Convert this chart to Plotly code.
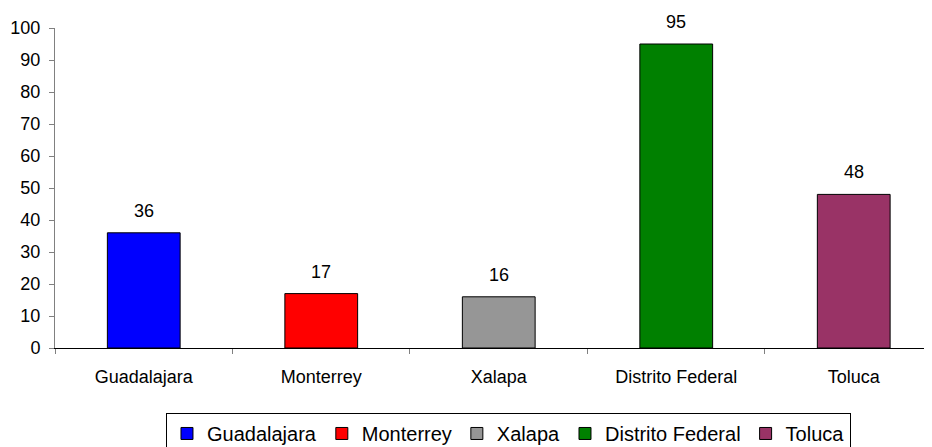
import plotly.graph_objects as go

categories = ["Guadalajara", "Monterrey", "Xalapa", "Distrito Federal", "Toluca"]
values = [36, 17, 16, 95, 48]
colors = ["#0000FF", "#FF0000", "#969696", "#008000", "#993366"]
y_ticks = [0, 10, 20, 30, 40, 50, 60, 70, 80, 90, 100]

FONT = "Liberation Sans, Arial, sans-serif"

fig = go.Figure()
for cat, val, col in zip(categories, values, colors):
    fig.add_trace(go.Bar(
        x=[cat], y=[val], name=cat, width=0.41,
        marker=dict(color=col, line=dict(color="#000000", width=1)),
        hoverinfo="x+y",
    ))
    fig.add_annotation(x=cat, y=val, text=str(val), showarrow=False,
                       yanchor="bottom", yshift=10,
                       font=dict(family=FONT, size=18, color="#000000"))

# page body has an 8px default margin, so figure coords are offset by 8px
fig.update_layout(
    width=932, height=447,
    margin=dict(l=47, r=0, t=20, b=107),
    plot_bgcolor="white", paper_bgcolor="white",
    barmode="overlay",
    font=dict(family=FONT, size=18, color="#000000"),
    showlegend=True,
    legend=dict(
        orientation="h", xref="container", yref="container",
        x=0.1695, y=0.094, xanchor="left", yanchor="top",
        bordercolor="#000000", borderwidth=1,
        font=dict(family=FONT, size=20, color="#000000"),
        itemwidth=30, tracegroupgap=0,
    ),
    xaxis=dict(
        categoryorder="array", categoryarray=categories,
        range=[-0.5, 4.486], automargin=False,
        showline=True, linecolor="#000000", linewidth=1,
        ticks="outside", tickson="boundaries", ticklen=5, tickcolor="#808080",
        showgrid=False, zeroline=False,
        ticklabelstandoff=12,
        tickfont=dict(size=18),
    ),
    yaxis=dict(
        range=[0, 100], tickvals=y_ticks, automargin=False,
        showline=True, linecolor="#808080", linewidth=1,
        ticks="outside", ticklen=5, tickcolor="#808080",
        showgrid=False, zeroline=False,
        tickfont=dict(size=18),
        ticklabelstandoff=5,
    ),
)

fig.write_html("out.html")
